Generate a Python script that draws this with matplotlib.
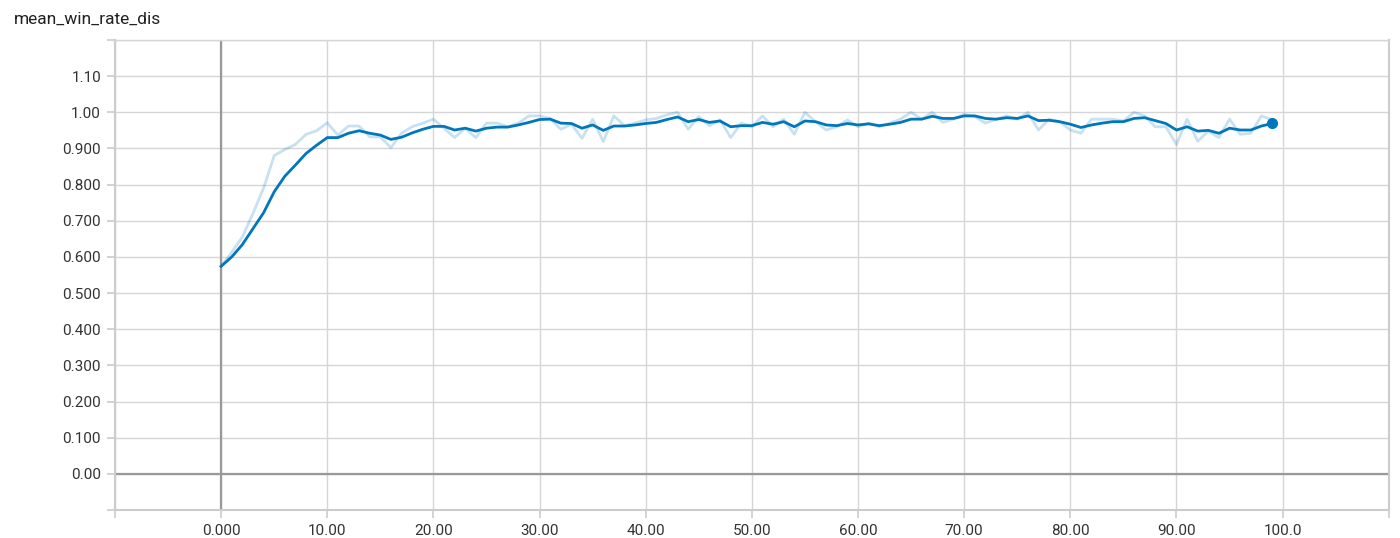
import matplotlib.pyplot as plt
from matplotlib.ticker import FixedLocator, FixedFormatter

"""DADOS"""
passos = list(range(100))

bruto = [0.574, 0.613, 0.655, 0.72, 0.79, 0.88, 0.897, 0.911, 0.939, 0.949,
         0.971, 0.937, 0.962, 0.962, 0.932, 0.932, 0.902, 0.942, 0.96, 0.97,
         0.981, 0.956, 0.93, 0.956, 0.93, 0.97, 0.97, 0.96, 0.97, 0.99,
         0.99, 0.983, 0.953, 0.967, 0.928, 0.981, 0.919, 0.99, 0.963, 0.97,
         0.979, 0.983, 0.993, 1.0, 0.953, 0.988, 0.963, 0.979, 0.93, 0.97,
         0.96, 0.99, 0.96, 0.981, 0.939, 1.0, 0.974, 0.951, 0.96, 0.979,
         0.96, 0.97, 0.96, 0.97, 0.981, 1.0, 0.981, 1.0, 0.972, 0.981,
         0.995, 0.988, 0.97, 0.981, 0.99, 0.981, 1.0, 0.951, 0.981, 0.974,
         0.951, 0.942, 0.981, 0.981, 0.981, 0.976, 1.0, 0.99, 0.96, 0.96,
         0.911, 0.981, 0.92, 0.948, 0.93, 0.981, 0.939, 0.942, 0.99, 0.979]

suave = [0.574, 0.60, 0.634, 0.678, 0.722, 0.78, 0.823, 0.854, 0.886, 0.909,
         0.93, 0.93, 0.942, 0.949, 0.942, 0.937, 0.925, 0.931, 0.943, 0.953,
         0.961, 0.961, 0.951, 0.956, 0.948, 0.956, 0.959, 0.959, 0.965, 0.972,
         0.98, 0.981, 0.97, 0.969, 0.956, 0.965, 0.95, 0.962, 0.962, 0.965,
         0.969, 0.972, 0.98, 0.987, 0.974, 0.98, 0.972, 0.976, 0.96, 0.963,
         0.963, 0.972, 0.967, 0.974, 0.96, 0.976, 0.974, 0.965, 0.963, 0.969,
         0.965, 0.968, 0.963, 0.967, 0.972, 0.981, 0.981, 0.989, 0.983, 0.983,
         0.99, 0.99, 0.983, 0.981, 0.985, 0.983, 0.99, 0.977, 0.978, 0.974,
         0.967, 0.958, 0.965, 0.97, 0.974, 0.974, 0.983, 0.985, 0.977, 0.969,
         0.951, 0.96, 0.948, 0.95, 0.942, 0.956, 0.951, 0.951, 0.962, 0.969]

xTicks = [-10, 0, 10, 20, 30, 40, 50, 60, 70, 80, 90, 100, 110]
xLabels = ["", "0.000", "10.00", "20.00", "30.00", "40.00", "50.00",
           "60.00", "70.00", "80.00", "90.00", "100.0", ""]
yTicks = [-0.1, 0.0, 0.1, 0.2, 0.3, 0.4, 0.5, 0.6, 0.7, 0.8, 0.9, 1.0, 1.1, 1.2]
yLabels = ["", "0.00", "0.100", "0.200", "0.300", "0.400", "0.500", "0.600",
           "0.700", "0.800", "0.900", "1.00", "1.10", ""]
"""DADOS"""

plt.rcParams['font.family'] = ['Roboto', 'DejaVu Sans']

fig = plt.figure(figsize=(14, 5.38), dpi=100)
ax = fig.add_axes([0.0821, 0.052, 0.9099, 0.8737])

cor = "#0077bb"
ax.plot(passos, bruto, color=cor, alpha=0.22, linewidth=2, zorder=3)
ax.plot(passos, suave, color=cor, linewidth=2, zorder=4)
ax.plot(passos[-1], suave[-1], "o", color=cor, markersize=7, zorder=5)

ax.set_xlim(-10, 110)
ax.set_ylim(-0.1, 1.2)
ax.xaxis.set_major_locator(FixedLocator(xTicks))
ax.xaxis.set_major_formatter(FixedFormatter(xLabels))
ax.yaxis.set_major_locator(FixedLocator(yTicks))
ax.yaxis.set_major_formatter(FixedFormatter(yLabels))

ax.grid(True, color="#d6d6d6", linewidth=1, zorder=0)
ax.axhline(0, color="#999999", linewidth=1.6, zorder=2)
ax.axvline(0, color="#999999", linewidth=1.6, zorder=2)

for s in ax.spines.values():
    s.set_color("#cccccc")
    s.set_linewidth(1.5)
ax.spines["top"].set_color("#d6d6d6")
ax.spines["top"].set_linewidth(1)

ax.tick_params(axis="both", colors="#cccccc", length=6, width=1.2,
               labelcolor="#333333", labelsize=11)
ax.tick_params(axis="x", pad=4)
ax.tick_params(axis="y", pad=4)

fig.text(0.01, 0.965, "mean_win_rate_dis", fontsize=12.5, color="#212121",
         ha="left", va="center")

plt.savefig("out.png", dpi=100)
